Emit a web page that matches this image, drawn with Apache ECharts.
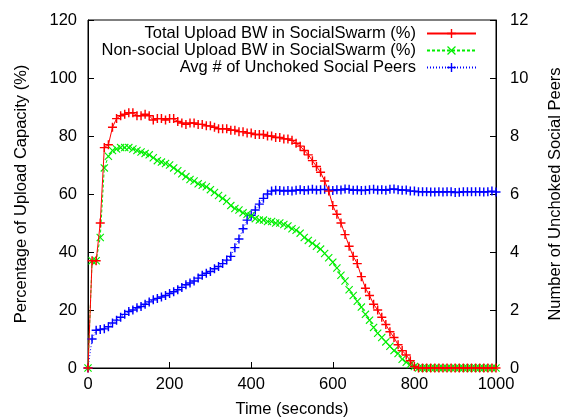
<!DOCTYPE html>
<html>
<head>
<meta charset="utf-8">
<script src="https://cdn.jsdelivr.net/npm/echarts@6/dist/echarts.min.js"></script>
<style>
  html, body { margin: 0; padding: 0; background: #fff; }
  #chart { width: 562px; height: 417px; }
</style>
</head>
<body>
<div id="chart"></div>
<script>
// Sample times (seconds), one sample every 10 s
const times = [];
for (let t = 0; t <= 1000; t += 10) times.push(t);

// Total upload bandwidth in SocialSwarm (% of capacity)
const totalUpload = [
  0, 37, 37, 50, 76, 77, 83, 86, 87, 87.5,
  88, 88, 87, 87, 87.5, 87, 85.5, 86, 86, 85.5,
  86, 86, 85, 84.5, 84, 84.5, 84.5, 84, 84, 83.5,
  83.5, 83, 82.5, 82.5, 82.5, 82, 82, 81.5, 81.5, 81,
  81, 80.5, 80.5, 80.5, 80, 80, 79.5, 79.5, 79, 79,
  78.5, 77.5, 76.5, 75, 73.5, 71.5, 69.5, 67.5, 64.5, 61,
  56, 53, 50, 46, 42, 38.5, 36, 31.5, 27.5, 25,
  22, 20, 17.5, 15, 12.5, 10.5, 8, 6, 4.5, 2.5,
  0.5, 0, 0, 0, 0, 0, 0, 0, 0, 0,
  0, 0, 0, 0, 0, 0, 0, 0, 0, 0,
  0
];

// Non-social upload bandwidth in SocialSwarm (% of capacity)
const nonSocialUpload = [
  0, 37, 37, 45, 69, 73, 75, 75.5, 76, 76,
  76, 75.5, 75, 74.5, 74, 73.5, 72.5, 71.5, 71, 70.5,
  70, 69, 68, 67, 66, 65, 64.5, 63.5, 63, 62.5,
  61.5, 60.5, 59.5, 58.5, 57.5, 56, 55, 54.5, 53.5, 53,
  52.5, 51.5, 51, 51, 50.5, 50.5, 50, 50, 49.5, 49,
  48, 47.5, 46.5, 45, 44, 43, 42, 41, 39.5, 38,
  36.5, 34.5, 32, 30, 27, 25, 23, 21, 18.5, 16.5,
  14, 12, 10.5, 9, 7.5, 6, 5, 3, 2, 1.2,
  0.5, 0, 0, 0, 0, 0, 0, 0, 0, 0,
  0, 0, 0, 0, 0, 0, 0, 0, 0, 0,
  0
];

// Average number of unchoked social peers (right axis)
const unchokedPeers = [
  0, 1.0, 1.3, 1.33, 1.35, 1.42, 1.55, 1.65, 1.75, 1.85,
  1.95, 2.0, 2.08, 2.12, 2.2, 2.28, 2.35, 2.4, 2.45, 2.5,
  2.57, 2.63, 2.7, 2.78, 2.87, 2.93, 3.0, 3.1, 3.2, 3.27,
  3.33, 3.42, 3.5, 3.6, 3.72, 3.85, 4.15, 4.45, 4.8, 5.1,
  5.27, 5.45, 5.65, 5.85, 6.0, 6.1, 6.13, 6.12, 6.1, 6.12,
  6.1, 6.13, 6.15, 6.12, 6.14, 6.16, 6.14, 6.15, 6.16, 6.14,
  6.12, 6.15, 6.14, 6.17, 6.16, 6.13, 6.14, 6.12, 6.13, 6.15,
  6.16, 6.14, 6.15, 6.13, 6.16, 6.17, 6.15, 6.13, 6.14, 6.1,
  6.1, 6.08, 6.08, 6.08, 6.07, 6.07, 6.08, 6.07, 6.08, 6.08,
  6.05, 6.06, 6.08, 6.08, 6.08, 6.08, 6.08, 6.07, 6.08, 6.1,
  6.07
];

const seriesNames = [
  'Total Upload BW in SocialSwarm (%)',
  'Non-social Upload BW in SocialSwarm (%)',
  'Avg # of Unchoked Social Peers'
];

const xTicks = { min: 0, max: 1000, interval: 200 };
const yLeftTicks = { min: 0, max: 120, interval: 20 };
const yRightTicks = { min: 0, max: 12, interval: 2 };

const FONT = 'Liberation Sans';
const FS = 16.5;

const plusPath = 'path://M4.2,0 H5.8 V4.2 H10 V5.8 H5.8 V10 H4.2 V5.8 H0 V4.2 H4.2 Z';
const crossPath = 'path://M0,1 L1,0 L5,4 L9,0 L10,1 L6,5 L10,9 L9,10 L5,6 L1,10 L0,9 L4,5 Z';

function pairs(vals) { return times.map((t, i) => [t, vals[i]]); }

function legendFor(name, top) {
  return {
    data: [name],
    right: 85,
    top: top,
    align: 'right',
    orient: 'horizontal',
    itemWidth: 49,
    itemHeight: 11,
    padding: 0,
    selectedMode: false,
    textStyle: { fontFamily: FONT, fontSize: FS, color: '#000', padding: [0, 6, 0, 0] }
  };
}

const axisCommon = {
  axisLine: { show: true, lineStyle: { color: '#000', width: 1 } },
  axisTick: { show: true, inside: true, length: 6, lineStyle: { color: '#000' } },
  splitLine: { show: false },
  axisLabel: { fontFamily: FONT, fontSize: FS, color: '#000', formatter: v => String(v) },
  nameTextStyle: { fontFamily: FONT, fontSize: FS, color: '#000' }
};

const option = {
  backgroundColor: '#fff',
  animation: false,
  grid: {
    left: 88, right: 66, top: 20, bottom: 49,
    show: true, borderColor: '#000', borderWidth: 1,
    containLabel: false, outerBoundsMode: 'none'
  },
  legend: [
    legendFor(seriesNames[0], 25),
    legendFor(seriesNames[1], 42),
    legendFor(seriesNames[2], 59)
  ],
  xAxis: Object.assign({}, axisCommon, {
    type: 'value', min: xTicks.min, max: xTicks.max, interval: xTicks.interval,
    name: 'Time (seconds)', nameLocation: 'middle', nameGap: 33,
    axisLabel: Object.assign({}, axisCommon.axisLabel, { margin: 8 })
  }),
  yAxis: [
    Object.assign({}, axisCommon, {
      type: 'value', position: 'left', min: yLeftTicks.min, max: yLeftTicks.max, interval: yLeftTicks.interval,
      name: 'Percentage of Upload Capacity (%)', nameLocation: 'middle', nameGap: 58, nameRotate: 90,
      axisLabel: Object.assign({}, axisCommon.axisLabel, { margin: 11 })
    }),
    Object.assign({}, axisCommon, {
      type: 'value', position: 'right', min: yRightTicks.min, max: yRightTicks.max, interval: yRightTicks.interval,
      name: 'Number of Unchoked Social Peers', nameLocation: 'middle', nameGap: 51, nameRotate: 90,
      axisLabel: Object.assign({}, axisCommon.axisLabel, { margin: 14 })
    })
  ],
  series: [
    {
      name: seriesNames[0], type: 'line', yAxisIndex: 0, data: pairs(totalUpload),
      symbol: plusPath, symbolSize: 9, showSymbol: true, showAllSymbol: true,
      itemStyle: { color: '#ff0000' },
      lineStyle: { color: '#ff0000', width: 1, type: 'solid' },
      z: 3
    },
    {
      name: seriesNames[1], type: 'line', yAxisIndex: 0, data: pairs(nonSocialUpload),
      symbol: crossPath, symbolSize: 8, showSymbol: true, showAllSymbol: true,
      itemStyle: { color: '#00ee00' },
      lineStyle: { color: '#00ee00', width: 1, type: [3, 2] },
      z: 2
    },
    {
      name: seriesNames[2], type: 'line', yAxisIndex: 1, data: pairs(unchokedPeers),
      symbol: plusPath, symbolSize: 9, showSymbol: true, showAllSymbol: true,
      itemStyle: { color: '#0000ff' },
      lineStyle: { color: '#0000ff', width: 1, type: [1, 2] },
      z: 1
    }
  ]
};

const chart = echarts.init(document.getElementById('chart'), null, { renderer: 'canvas' });
chart.setOption(option);
</script>
</body>
</html>
